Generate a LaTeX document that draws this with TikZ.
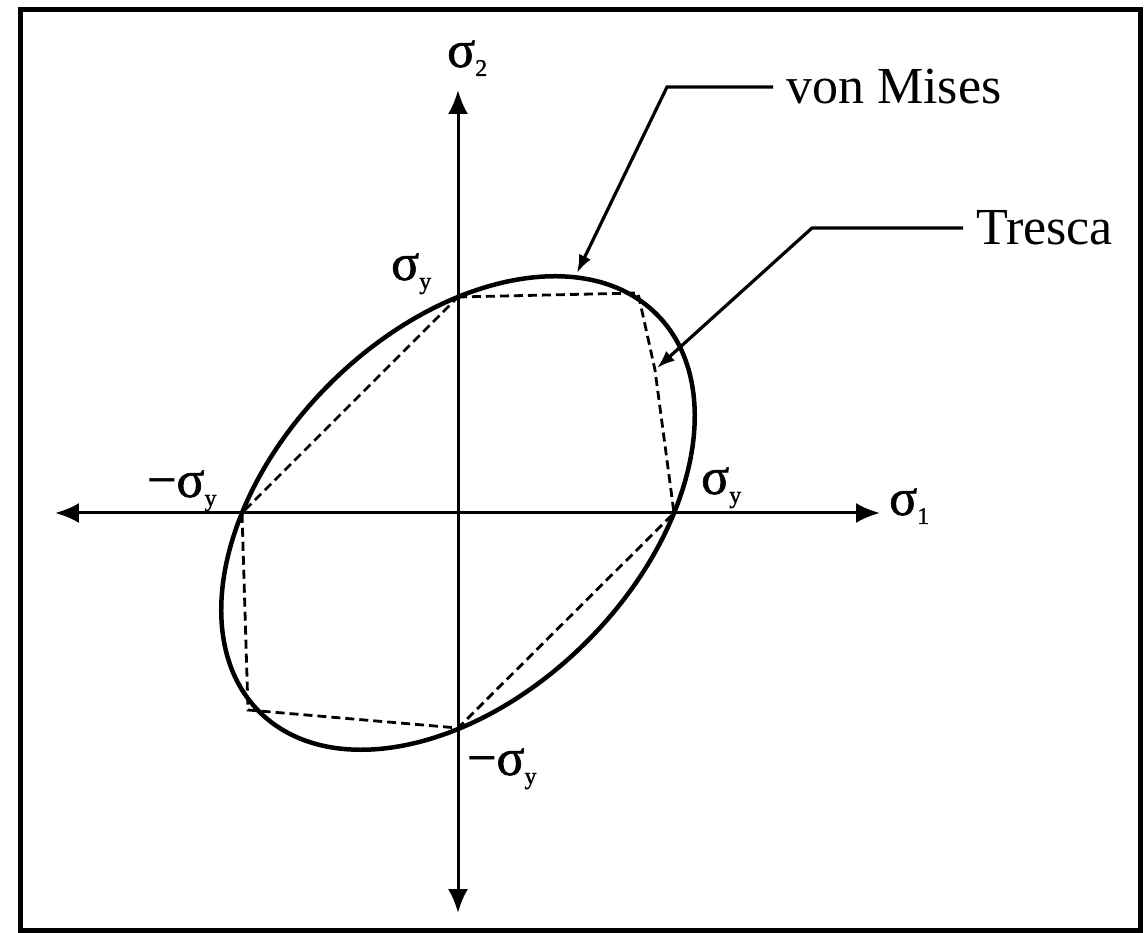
\documentclass[tikz,border=0pt]{standalone}
\usepackage{fontspec}
\setmainfont{Liberation Serif}
\newfontfamily\sigfont[FakeBold=1.2]{Liberation Serif}
\usetikzlibrary{arrows.meta}
\newcommand{\lsub}[1]{\raisebox{-9pt}{\fontsize{24pt}{24pt}\selectfont #1}}
\begin{document}
\begin{tikzpicture}[x=1pt,y=1pt,
  axisline/.style={line width=3pt,{Latex[length=24pt,width=20pt]}-{Latex[length=24pt,width=20pt]}},
  leader/.style={line width=3.2pt,-{Latex[length=18pt,width=13pt]}},
  vmline/.style={line width=4.5pt},
  trline/.style={line width=2.8pt,dash pattern=on 9pt off 5pt},
  lbl/.style={inner sep=0pt,font=\sigfont\fontsize{52pt}{58pt}\selectfont},
  leglabel/.style={inner xsep=13pt,inner ysep=0pt,anchor=west,font=\fontsize{52pt}{60pt}\selectfont}]
\useasboundingbox (-458,-420) rectangle (687,513);
\draw[line width=5pt] (-437,503) rectangle (682,-417);
% axes
\coordinate (O) at (0,0);
\coordinate (xl) at (-403,0);
\coordinate (xr) at (422,0);
\coordinate (yt) at (0,423);
\coordinate (yb) at (0,-400);
\draw[axisline] (xl) -- (xr);
\draw[axisline] (yb) -- (yt);
% von Mises ellipse
\draw[vmline,rotate=45] (O) ellipse [x radius=281pt, y radius=182pt];
% Tresca hexagon
\coordinate (t1) at (0,216);
\coordinate (t2) at (180,220);
\coordinate (t3) at (197,143);
\coordinate (t4) at (216,0);
\coordinate (t5) at (0,-215);
\coordinate (t6) at (-210,-197);
\coordinate (t7) at (-216,0);
\draw[trline] (t1) -- (t2) -- (t3) -- (t4) -- (t5) -- (t6) -- (t7) -- cycle;
% labels
\node[lbl,anchor=base west] (s2) at (-11,446) {σ\lsub{2}};
\node[lbl,anchor=base west] (s1) at (431,-2) {σ\lsub{1}};
\node[lbl,anchor=base west] (syt) at (-67,233) {σ\lsub{y}};
\node[lbl,anchor=base west] (syl) at (-311,16) {−σ\lsub{y}};
\node[lbl,anchor=base west] (syr) at (243,19) {σ\lsub{y}};
\node[lbl,anchor=base west] (syb) at (9,-262) {−σ\lsub{y}};
% leaders
\node[leglabel] (vm) at (315,426) {von Mises};
\coordinate (vmc) at (209,426);
\coordinate (vmt) at (119,240);
\draw[leader] (vm.west) -- (vmc) -- (vmt);
\node[leglabel] (tr) at (505,285) {Tresca};
\coordinate (trc) at (354,285);
\coordinate (trt) at (199,145);
\draw[leader] (tr.west) -- (trc) -- (trt);
\end{tikzpicture}
\end{document}
